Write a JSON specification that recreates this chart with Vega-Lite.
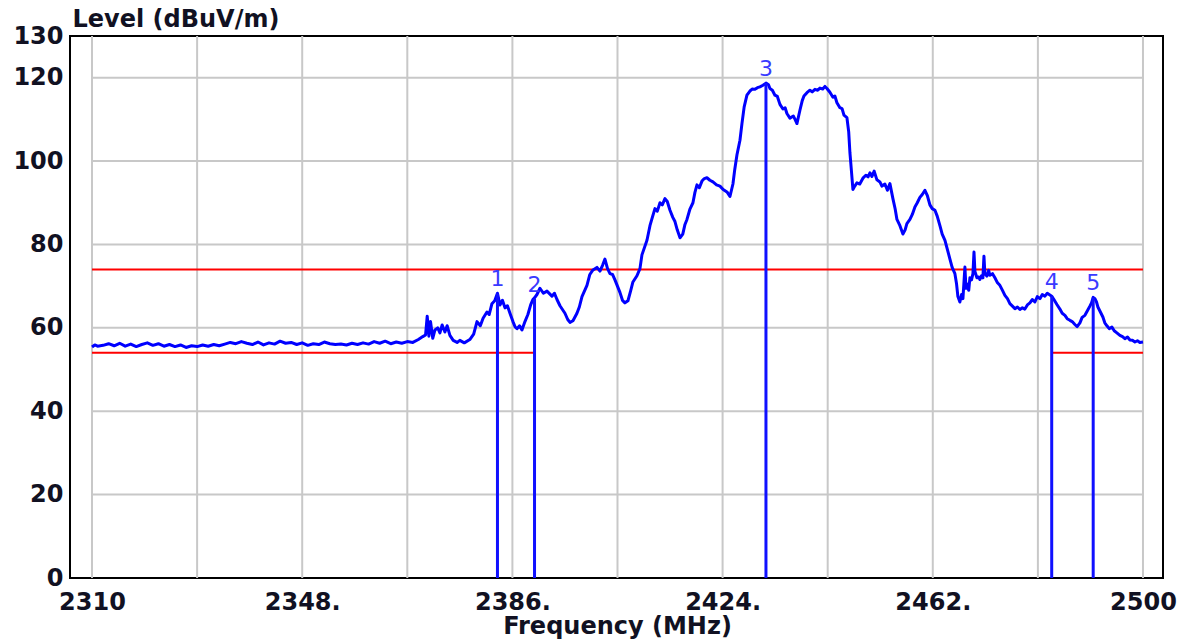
{
  "$schema": "https://vega.github.io/schema/vega-lite/v6.json",
  "autosize": "none",
  "width": 1093,
  "height": 542,
  "padding": {"left": 70, "top": 36, "right": 29, "bottom": 63},
  "background": "white",
  "config": {
    "view": {"stroke": "#000000", "strokeWidth": 2},
    "font": "DejaVu Sans"
  },
  "datasets": {
    "trace": [
      {"f":2310,"v":55.4},{"f":2310.5,"v":55.9},{"f":2311,"v":55.6},{"f":2312,"v":55.8},{"f":2313,"v":56.2},{"f":2314,"v":55.7},{"f":2315,"v":56.3},{"f":2316,"v":55.6},{"f":2317,"v":56.1},{"f":2318,"v":55.5},{"f":2319,"v":56.0},{"f":2320,"v":56.4},{"f":2321,"v":55.8},{"f":2322,"v":56.2},{"f":2323,"v":55.6},{"f":2324,"v":56.0},{"f":2325,"v":55.5},{"f":2326,"v":55.9},{"f":2327,"v":55.3},{"f":2328,"v":55.7},{"f":2329,"v":55.5},{"f":2330,"v":55.9},{"f":2331,"v":55.6},{"f":2332,"v":56.0},{"f":2333,"v":55.7},{"f":2334,"v":56.1},{"f":2335,"v":56.5},{"f":2336,"v":56.2},{"f":2337,"v":56.7},{"f":2338,"v":56.3},{"f":2339,"v":56.0},{"f":2340,"v":56.6},{"f":2341,"v":55.9},{"f":2342,"v":56.4},{"f":2343,"v":56.1},{"f":2344,"v":56.8},{"f":2345,"v":56.3},{"f":2346,"v":56.5},{"f":2347,"v":56.0},{"f":2348,"v":56.4},{"f":2349,"v":55.8},{"f":2350,"v":56.2},{"f":2351,"v":56.0},{"f":2352,"v":56.6},{"f":2353,"v":56.2},{"f":2354,"v":56.0},{"f":2355,"v":56.1},{"f":2356,"v":55.9},{"f":2357,"v":56.3},{"f":2358,"v":56.0},{"f":2359,"v":56.4},{"f":2360,"v":56.1},{"f":2361,"v":56.7},{"f":2362,"v":56.3},{"f":2363,"v":56.8},{"f":2364,"v":56.2},{"f":2365,"v":56.6},{"f":2366,"v":56.3},{"f":2367,"v":56.7},{"f":2368,"v":56.5},
      {"f":2369,"v":57.2},{"f":2369.8,"v":57.9},{"f":2370.3,"v":58.3},{"f":2370.6,"v":62.8},{"f":2370.9,"v":58.0},{"f":2371.2,"v":61.5},{"f":2371.6,"v":57.5},{"f":2372.0,"v":59.5},{"f":2372.5,"v":60.0},{"f":2372.9,"v":58.8},{"f":2373.3,"v":60.7},{"f":2373.8,"v":59.0},{"f":2374.2,"v":60.5},{"f":2374.7,"v":58.2},{"f":2375.3,"v":57.0},{"f":2376.0,"v":56.5},{"f":2376.5,"v":57.0},{"f":2377.3,"v":56.4},{"f":2378.3,"v":57.2},{"f":2379.0,"v":58.5},{"f":2379.6,"v":61.5},{"f":2380.2,"v":60.5},{"f":2380.7,"v":62.3},{"f":2381.4,"v":63.8},{"f":2381.8,"v":63.2},{"f":2382.3,"v":65.8},{"f":2382.8,"v":66.5},{"f":2383.3,"v":68.3},{"f":2383.75,"v":65.5},{"f":2384.2,"v":66.6},{"f":2384.66,"v":64.8},{"f":2385.1,"v":65.3},{"f":2385.56,"v":63.5},{"f":2386.1,"v":61.5},{"f":2386.5,"v":60.2},{"f":2386.83,"v":59.8},{"f":2387.3,"v":60.5},{"f":2387.73,"v":59.5},{"f":2388.27,"v":61.5},{"f":2388.8,"v":63.2},{"f":2389.3,"v":65.5},{"f":2389.7,"v":66.8},{"f":2390.0,"v":67.2},{"f":2390.44,"v":68.0},{"f":2390.98,"v":69.5},{"f":2391.6,"v":68.3},{"f":2392.25,"v":68.8},{"f":2393.15,"v":67.6},{"f":2393.6,"v":68.3},{"f":2394.06,"v":66.8},{"f":2394.6,"v":65.3},{"f":2395.5,"v":63.5},{"f":2396.0,"v":62.0},{"f":2396.41,"v":61.3},{"f":2396.95,"v":61.7},{"f":2397.67,"v":63.5},{"f":2398.1,"v":65.0},{"f":2398.58,"v":67.5},{"f":2399.48,"v":70.2},{"f":2400.0,"v":72.8},{"f":2400.5,"v":73.8},{"f":2401.29,"v":74.5},{"f":2401.83,"v":73.6},{"f":2402.3,"v":75.0},{"f":2402.73,"v":76.5},{"f":2403.2,"v":74.2},{"f":2403.64,"v":73.0},{"f":2404.1,"v":72.8},{"f":2404.54,"v":71.5},{"f":2405.44,"v":68.5},{"f":2405.9,"v":66.6},{"f":2406.35,"v":66.0},{"f":2406.89,"v":66.5},{"f":2407.4,"v":69.0},{"f":2407.79,"v":71.0},{"f":2408.52,"v":72.5},{"f":2409.06,"v":74.2},{"f":2409.42,"v":77.5},{"f":2410.33,"v":81.0},{"f":2410.87,"v":84.5},{"f":2411.3,"v":86.5},{"f":2411.77,"v":88.6},{"f":2412.2,"v":88.0},{"f":2412.68,"v":90.0},{"f":2413.1,"v":89.5},{"f":2413.58,"v":91.0},{"f":2414.0,"v":90.3},{"f":2414.49,"v":88.2},{"f":2415.0,"v":86.5},{"f":2415.39,"v":85.5},{"f":2415.8,"v":83.5},{"f":2416.3,"v":81.6},{"f":2416.8,"v":82.5},{"f":2417.2,"v":84.8},{"f":2417.56,"v":86.0},{"f":2418.1,"v":88.5},{"f":2418.64,"v":90.0},{"f":2419.0,"v":92.5},{"f":2419.37,"v":94.3},{"f":2419.8,"v":93.6},{"f":2420.27,"v":95.2},{"f":2420.7,"v":95.8},{"f":2421.17,"v":96.0},{"f":2421.7,"v":95.4},{"f":2422.26,"v":95.0},{"f":2422.9,"v":94.3},{"f":2423.52,"v":94.0},{"f":2424.1,"v":93.2},{"f":2424.79,"v":92.6},{"f":2425.33,"v":91.5},{"f":2425.87,"v":94.5},{"f":2426.2,"v":98.0},{"f":2426.6,"v":101.5},{"f":2427.14,"v":105.0},{"f":2427.5,"v":109.0},{"f":2427.9,"v":113.0},{"f":2428.4,"v":115.8},{"f":2428.94,"v":116.8},{"f":2429.4,"v":117.3},{"f":2429.85,"v":117.2},{"f":2430.3,"v":117.6},{"f":2430.75,"v":117.8},{"f":2431.3,"v":118.2},{"f":2431.84,"v":118.7},{"f":2432.3,"v":118.3},{"f":2432.56,"v":117.4},{"f":2433.0,"v":117.0},{"f":2433.46,"v":115.8},{"f":2433.9,"v":115.5},{"f":2434.37,"v":113.6},{"f":2434.91,"v":112.5},{"f":2435.3,"v":112.8},{"f":2435.63,"v":111.4},{"f":2436.17,"v":110.3},{"f":2436.8,"v":110.8},{"f":2437.1,"v":110.0},{"f":2437.44,"v":109.0},{"f":2437.98,"v":112.2},{"f":2438.4,"v":114.5},{"f":2438.71,"v":115.6},{"f":2439.25,"v":116.4},{"f":2439.79,"v":117.0},{"f":2440.2,"v":116.6},{"f":2440.7,"v":117.2},{"f":2441.2,"v":117.0},{"f":2441.6,"v":117.5},{"f":2442.1,"v":117.3},{"f":2442.5,"v":117.9},{"f":2442.87,"v":117.4},{"f":2443.4,"v":116.5},{"f":2443.95,"v":115.3},{"f":2444.3,"v":115.6},{"f":2444.67,"v":114.0},{"f":2445.21,"v":112.8},{"f":2445.6,"v":112.6},{"f":2445.94,"v":111.0},{"f":2446.48,"v":110.4},{"f":2446.8,"v":107.0},{"f":2447.02,"v":102.0},{"f":2447.3,"v":97.5},{"f":2447.56,"v":93.2},{"f":2447.9,"v":94.0},{"f":2448.29,"v":94.8},{"f":2448.8,"v":94.5},{"f":2449.37,"v":95.9},{"f":2449.9,"v":96.6},{"f":2450.3,"v":96.2},{"f":2450.64,"v":97.2},{"f":2451.0,"v":96.3},{"f":2451.4,"v":97.6},{"f":2451.9,"v":95.5},{"f":2452.44,"v":95.0},{"f":2452.8,"v":94.0},{"f":2453.35,"v":94.5},{"f":2453.8,"v":93.0},{"f":2454.25,"v":94.6},{"f":2454.79,"v":91.0},{"f":2455.2,"v":88.5},{"f":2455.52,"v":86.0},{"f":2456.06,"v":84.5},{"f":2456.6,"v":82.5},{"f":2457.0,"v":83.5},{"f":2457.32,"v":85.0},{"f":2457.87,"v":86.0},{"f":2458.3,"v":87.2},{"f":2458.77,"v":89.0},{"f":2459.2,"v":90.0},{"f":2459.67,"v":91.3},{"f":2460.1,"v":92.0},{"f":2460.58,"v":93.0},{"f":2461.0,"v":91.8},{"f":2461.48,"v":89.5},{"f":2461.9,"v":88.6},{"f":2462.39,"v":88.2},{"f":2462.8,"v":86.8},{"f":2463.29,"v":84.5},{"f":2463.7,"v":82.5},{"f":2464.2,"v":81.0},{"f":2464.6,"v":79.0},{"f":2465.1,"v":76.5},{"f":2465.5,"v":74.5},{"f":2466.0,"v":73.0},{"f":2466.3,"v":70.5},{"f":2466.54,"v":67.5},{"f":2466.9,"v":66.2},{"f":2467.2,"v":68.0},{"f":2467.45,"v":67.0},{"f":2467.81,"v":74.6},{"f":2468.0,"v":69.5},{"f":2468.17,"v":70.5},{"f":2468.5,"v":69.0},{"f":2468.71,"v":72.0},{"f":2469.0,"v":71.5},{"f":2469.26,"v":73.0},{"f":2469.45,"v":78.2},{"f":2469.62,"v":73.5},{"f":2469.98,"v":72.0},{"f":2470.3,"v":72.2},{"f":2470.52,"v":71.6},{"f":2470.8,"v":72.5},{"f":2471.06,"v":72.0},{"f":2471.25,"v":77.2},{"f":2471.42,"v":73.0},{"f":2471.78,"v":72.4},{"f":2472.1,"v":73.8},{"f":2472.33,"v":72.6},{"f":2472.8,"v":73.0},{"f":2473.23,"v":72.0},{"f":2473.7,"v":70.8},{"f":2474.13,"v":70.2},{"f":2474.6,"v":69.0},{"f":2475.04,"v":67.8},{"f":2475.5,"v":67.0},{"f":2475.94,"v":65.8},{"f":2476.4,"v":65.2},{"f":2476.85,"v":64.6},{"f":2477.3,"v":65.0},{"f":2477.75,"v":64.4},{"f":2478.2,"v":64.8},{"f":2478.65,"v":64.5},{"f":2479.1,"v":65.5},{"f":2479.56,"v":66.0},{"f":2480.0,"v":66.8},{"f":2480.46,"v":66.2},{"f":2480.9,"v":67.5},{"f":2481.37,"v":67.0},{"f":2481.8,"v":68.0},{"f":2482.27,"v":67.6},{"f":2482.7,"v":68.3},{"f":2483.17,"v":67.9},{"f":2483.5,"v":67.6},{"f":2483.9,"v":66.8},{"f":2484.44,"v":65.6},{"f":2484.98,"v":64.5},{"f":2485.4,"v":63.5},{"f":2485.89,"v":63.0},{"f":2486.3,"v":62.2},{"f":2486.79,"v":61.8},{"f":2487.2,"v":61.5},{"f":2487.69,"v":60.8},{"f":2488.1,"v":60.3},{"f":2488.6,"v":61.2},{"f":2489.0,"v":62.5},{"f":2489.5,"v":63.0},{"f":2490.0,"v":64.2},{"f":2490.4,"v":65.2},{"f":2490.7,"v":66.0},{"f":2491.0,"v":67.3},{"f":2491.31,"v":67.0},{"f":2491.6,"v":66.2},{"f":2491.85,"v":65.0},{"f":2492.3,"v":63.8},{"f":2492.75,"v":62.6},{"f":2493.1,"v":61.2},{"f":2493.48,"v":60.5},{"f":2493.9,"v":59.8},{"f":2494.38,"v":60.2},{"f":2494.8,"v":59.3},{"f":2495.28,"v":58.8},{"f":2495.83,"v":58.2},{"f":2496.3,"v":57.9},{"f":2496.73,"v":57.4},{"f":2497.2,"v":57.8},{"f":2497.64,"v":57.1},{"f":2498.1,"v":57.0},{"f":2498.54,"v":56.6},{"f":2499.0,"v":56.9},{"f":2499.44,"v":56.5},{"f":2500.0,"v":56.6}
    ],
    "gridx": [{"f":2310},{"f":2329},{"f":2348},{"f":2367},{"f":2386},{"f":2405},{"f":2424},{"f":2443},{"f":2462},{"f":2481},{"f":2500}],
    "gridy": [{"v":20},{"v":40},{"v":60},{"v":80},{"v":100},{"v":120}],
    "limits": [{"f1":2310,"f2":2500,"v":74},{"f1":2310,"f2":2390,"v":54},{"f1":2483.5,"f2":2500,"v":54}],
    "markers": [
      {"m":"1","f":2383.3,"v":68.3},
      {"m":"2","f":2390.0,"v":67.0},
      {"m":"3","f":2431.84,"v":118.7},
      {"m":"4","f":2483.5,"v":67.6},
      {"m":"5","f":2491.0,"v":67.3}
    ]
  },
  "layer": [
    {
      "data": {"name": "gridx"},
      "mark": {"type": "rule", "color": "#c8c8c8", "strokeWidth": 2},
      "encoding": {
        "x": {
          "field": "f", "type": "quantitative",
          "scale": {"domain": [2306.02, 2503.62], "nice": false, "zero": false},
          "axis": {
            "title": "Frequency (MHz)",
            "values": [2310, 2348, 2386, 2424, 2462, 2500],
            "labelExpr": "(datum.value == 2310 || datum.value == 2500) ? format(datum.value, 'd') : format(datum.value, 'd') + '.'",
            "grid": false, "domain": false, "ticks": false, "tickSize": 0,
            "labelPadding": 12, "labelFlush": false,
            "labelFont": "DejaVu Sans", "labelFontSize": 24, "labelFontWeight": "bold", "labelColor": "#111122",
            "titleFont": "DejaVu Sans", "titleFontSize": 24, "titleFontWeight": "bold", "titleColor": "#111122",
            "titleX": 547, "titleY": 55, "titleBaseline": "alphabetic", "titleAlign": "center"
          }
        }
      }
    },
    {
      "data": {"name": "gridy"},
      "mark": {"type": "rule", "color": "#c8c8c8", "strokeWidth": 2},
      "encoding": {
        "y": {
          "field": "v", "type": "quantitative",
          "scale": {"domain": [0, 130], "nice": false},
          "axis": {
            "title": "Level (dBuV/m)",
            "values": [0, 20, 40, 60, 80, 100, 120, 130],
            "grid": false, "domain": false, "ticks": false, "tickSize": 0,
            "labelPadding": 7, "labelFlush": false,
            "labelFont": "DejaVu Sans", "labelFontSize": 24, "labelFontWeight": "bold", "labelColor": "#111122",
            "titleFont": "DejaVu Sans", "titleFontSize": 24, "titleFontWeight": "bold", "titleColor": "#111122",
            "titleAngle": 0, "titleX": 2, "titleY": -10, "titleAlign": "left", "titleBaseline": "alphabetic"
          }
        },
        "x": {"datum": 2310, "type": "quantitative"},
        "x2": {"datum": 2500}
      }
    },
    {
      "data": {"name": "limits"},
      "mark": {"type": "rule", "color": "#ff0000", "strokeWidth": 2},
      "encoding": {
        "x": {"field": "f1", "type": "quantitative"},
        "x2": {"field": "f2"},
        "y": {"field": "v", "type": "quantitative"}
      }
    },
    {
      "data": {"name": "trace"},
      "mark": {"type": "line", "color": "#0000ff", "strokeWidth": 3, "strokeJoin": "round"},
      "encoding": {
        "x": {"field": "f", "type": "quantitative"},
        "y": {"field": "v", "type": "quantitative"}
      }
    },
    {
      "data": {"name": "markers"},
      "mark": {"type": "rule", "color": "#1010ff", "strokeWidth": 3},
      "encoding": {
        "x": {"field": "f", "type": "quantitative"},
        "y": {"field": "v", "type": "quantitative"},
        "y2": {"datum": 0}
      }
    },
    {
      "data": {"name": "markers"},
      "mark": {"type": "text", "color": "#3a3aff", "font": "DejaVu Sans", "fontSize": 22, "baseline": "alphabetic", "align": "center", "dy": -7},
      "encoding": {
        "x": {"field": "f", "type": "quantitative"},
        "y": {"field": "v", "type": "quantitative"},
        "text": {"field": "m"}
      }
    }
  ]
}
